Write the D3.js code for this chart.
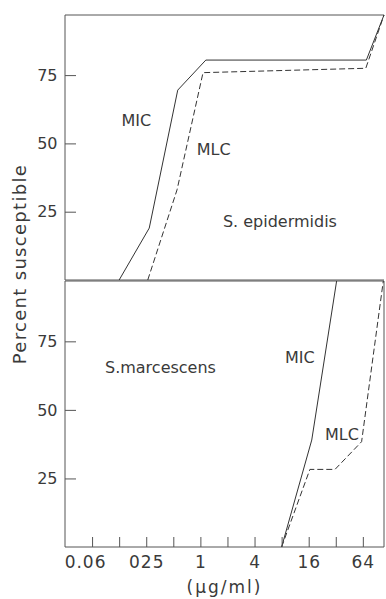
<!DOCTYPE html>
<html>
<head>
<meta charset="utf-8">
<script src="https://cdn.jsdelivr.net/npm/d3@7"></script>
<style>
  body { margin: 0; background: #fff; }
  svg { display: block; font-family: "DejaVu Sans", sans-serif; }
  .domain { display: none; }
  .tick line { stroke: #555; }
  .tick text { fill: #3a3a3a; }
  .frame { fill: none; stroke: #555; stroke-width: 1; }
  .curve { fill: none; stroke: #333; stroke-width: 1; }
  .dashed { stroke-dasharray: 6,3; }
  .note { fill: #3a3a3a; font-size: 16px; }
</style>
</head>
<body>
<svg id="chart"></svg>
<script>
// Data (x in ug/ml, y in percent susceptible)
const epiMic = [[0.125, 0], [0.27, 19], [0.56, 69.5], [1.15, 80.5], [70, 80.5], [110, 97]];
const epiMlc = [[0.26, 0], [0.55, 33], [1.07, 75.9], [69, 77.5], [110, 97]];
const marMic = [[8, 0], [17.3, 39], [32.7, 97]];
const marMlc = [[8, 0], [16.5, 28.3], [31.4, 28.3], [62, 38.4], [108, 97]];

const xTicks = [0.0625, 0.125, 0.25, 0.5, 1, 2, 4, 8, 16, 32, 64];
const xLabelValues = [0.0625, 0.25, 1, 4, 16, 64];
const xLabelText = ["0.06", "025", "1", "4", "16", "64"];
const yTicks = [25, 50, 75];

// Text labels placed in data coordinates
const epiNotes = [
    { text: "MIC", x: 0.133, y: 56.4 },
    { text: "MLC", x: 0.91, y: 45.8 },
    { text: "S. epidermidis", x: 1.78, y: 19.4 }
];
const marNotes = [
    { text: "S.marcescens", x: 0.087, y: 63.4 },
    { text: "MIC", x: 8.72, y: 67.2 },
    { text: "MLC", x: 24.3, y: 39 }
];

// Layout
const W = 386, H = 599;
const svg = d3.select("#chart").attr("width", W).attr("height", H);

const xScale = d3.scaleLog().base(2).domain([1 / 32, 110]).range([65, 384]);
const yDomain = [0, 97];
const yTop = d3.scaleLinear().domain(yDomain).range([280, 15]);
const yBottom = d3.scaleLinear().domain(yDomain).range([547, 281]);

function drawPanel(yScale, mic, mlc, notes, rightBorder) {
    const g = svg.append("g");
    const x0 = xScale.range()[0], x1 = xScale.range()[1];
    const yb = yScale.range()[0], yt = yScale.range()[1];

    // frame
    const p = d3.path();
    if (rightBorder) {
        p.moveTo(x1, yt); p.lineTo(x1, yb);
    }
    p.moveTo(x1, yt); p.lineTo(x0, yt); p.lineTo(x0, yb); p.lineTo(x1, yb);
    g.append("path").attr("class", "frame").attr("d", p.toString());

    // y axis
    const yAxis = d3.axisLeft(yScale).tickValues(yTicks).tickSize(-11).tickPadding(7.5);
    g.append("g")
        .attr("transform", `translate(${x0},0)`)
        .call(yAxis)
        .attr("font-size", 16)
        .attr("font-family", null);

    const line = d3.line()
        .x(d => xScale(d[0]))
        .y(d => yScale(d[1]));

    g.append("path").attr("class", "curve").attr("d", line(mic));
    g.append("path").attr("class", "curve dashed").attr("d", line(mlc));

    g.selectAll(".note")
        .data(notes)
        .enter()
        .append("text")
        .attr("class", "note")
        .attr("x", d => xScale(d.x))
        .attr("y", d => yScale(d.y))
        .text(d => d.text);
    return g;
}

drawPanel(yTop, epiMic, epiMlc, epiNotes, false);
drawPanel(yBottom, marMic, marMlc, marNotes, true);

// x axis on the lower panel
const xAxis = d3.axisBottom(xScale)
    .tickValues(xTicks)
    .tickSize(-10)
    .tickPadding(9)
    .tickFormat(d => {
        const i = xLabelValues.indexOf(d);
        return i >= 0 ? xLabelText[i] : "";
    });

svg.append("g")
    .attr("transform", `translate(0,${yBottom.range()[0]})`)
    .call(xAxis)
    .attr("font-size", 17)
    .attr("font-family", null)
    .selectAll("text")
    .attr("letter-spacing", "1px")
    .attr("dx", d => d === xLabelValues[0] ? -7 : 0);

// axis titles
svg.append("text")
    .attr("x", (xScale.range()[0] + xScale.range()[1]) / 2)
    .attr("y", 593)
    .attr("text-anchor", "middle")
    .attr("font-size", 17)
    .attr("letter-spacing", "2px")
    .attr("fill", "#3a3a3a")
    .text("(\u00b5g/ml)");

svg.append("text")
    .attr("transform", "rotate(-90)")
    .attr("x", -264)
    .attr("y", 26)
    .attr("text-anchor", "middle")
    .attr("font-size", 18)
    .attr("letter-spacing", "1.3px")
    .attr("fill", "#3a3a3a")
    .text("Percent susceptible");
</script>
</body>
</html>
